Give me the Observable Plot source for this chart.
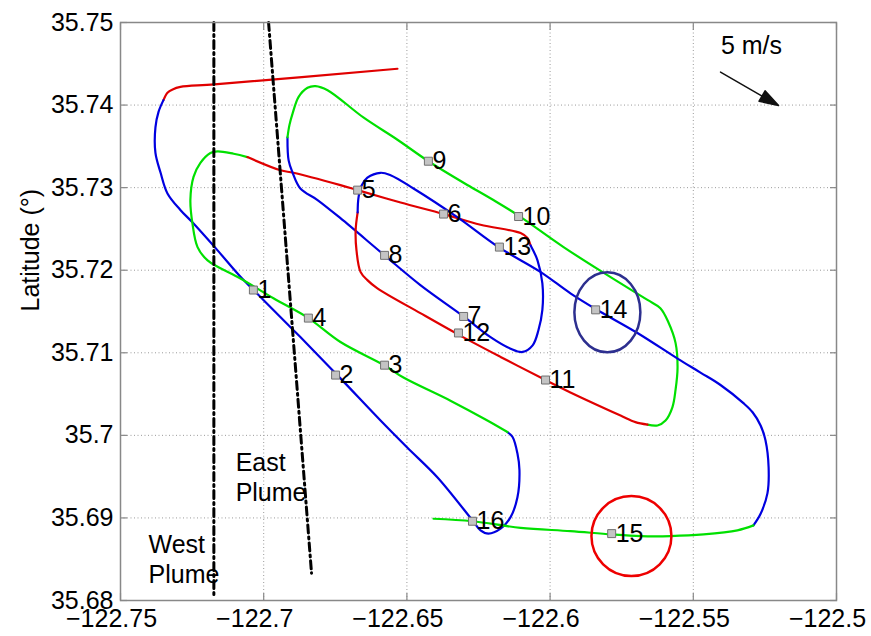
<!DOCTYPE html>
<html>
<head>
<meta charset="utf-8">
<script src="https://cdn.jsdelivr.net/npm/d3@7"></script>
<script src="https://cdn.jsdelivr.net/npm/@observablehq/plot@0.6"></script>
<style>
  body { margin: 0; background: #fff; }
  #chart svg { display: block; }
</style>
</head>
<body>
<div id="chart"></div>
<script>
// Axis ticks and their printed labels
const xTicks = [-122.75, -122.7, -122.65, -122.6, -122.55, -122.5];
const xTickLabels = ["−122.75", "−122.7", "−122.65", "−122.6", "−122.55", "−122.5"];
const yTicks = [35.68, 35.69, 35.7, 35.71, 35.72, 35.73, 35.74, 35.75];
const yTickLabels = ["35.68", "35.69", "35.7", "35.71", "35.72", "35.73", "35.74", "35.75"];
const yTitle = "Latitude (°)";

// Flight track, leg by leg, as [longitude, latitude]
const leg0Red = [[-122.6533, 35.7444], [-122.7172, 35.7425], [-122.7291, 35.7422], [-122.7318, 35.7419], [-122.7336, 35.7415], [-122.7350, 35.7406]];
const leg1Blue = [[-122.7350, 35.7406], [-122.7367, 35.7392], [-122.7378, 35.7373], [-122.7378, 35.7342], [-122.7360, 35.7318], [-122.7336, 35.7293], [-122.7291, 35.7273], [-122.7249, 35.7258], [-122.7161, 35.7224], [-122.7081, 35.7192], [-122.7001, 35.7164], [-122.6872, 35.7119], [-122.6732, 35.7069], [-122.6592, 35.7018], [-122.6498, 35.6985], [-122.6393, 35.6949], [-122.6271, 35.6897], [-122.6243, 35.6885], [-122.6215, 35.6881], [-122.6173, 35.6887], [-122.6138, 35.6901], [-122.6114, 35.6925], [-122.6107, 35.6958], [-122.6114, 35.6978], [-122.6131, 35.6998], [-122.6149, 35.7004]];
const leg2Green = [[-122.6149, 35.7004], [-122.6219, 35.7018], [-122.6348, 35.7042], [-122.6512, 35.7070], [-122.6575, 35.7084], [-122.6732, 35.7113], [-122.6844, 35.7142], [-122.6966, 35.7166], [-122.7081, 35.7190], [-122.7196, 35.7212], [-122.7231, 35.7228], [-122.7249, 35.7257], [-122.7256, 35.7285], [-122.7245, 35.7313], [-122.7221, 35.7330], [-122.7186, 35.7342], [-122.7161, 35.7344], [-122.7105, 35.7341], [-122.7057, 35.7337]];
const leg3Red = [[-122.7057, 35.7337], [-122.6941, 35.7321], [-122.6896, 35.7318], [-122.6732, 35.7303], [-122.6672, 35.7297], [-122.6522, 35.7282], [-122.6372, 35.7268], [-122.6243, 35.7255], [-122.6103, 35.7245], [-122.6079, 35.7239], [-122.6068, 35.7230]];
const leg4Blue = [[-122.6068, 35.7230], [-122.6044, 35.7212], [-122.6027, 35.7184], [-122.6027, 35.7152], [-122.6041, 35.7127], [-122.6061, 35.7109], [-122.6096, 35.7101], [-122.6138, 35.7105], [-122.6208, 35.7119], [-122.6302, 35.7144], [-122.6453, 35.7182], [-122.6578, 35.7218], [-122.6732, 35.7263], [-122.6812, 35.7285], [-122.6872, 35.7299], [-122.6899, 35.7318], [-122.6913, 35.7333], [-122.6917, 35.7361]];
const leg5Green = [[-122.6917, 35.7361], [-122.6910, 35.7376], [-122.6899, 35.7390], [-122.6878, 35.7410], [-122.6847, 35.7421], [-122.6819, 35.7423], [-122.6777, 35.7418], [-122.6652, 35.7385], [-122.6533, 35.7358], [-122.6425, 35.7332], [-122.6278, 35.7301], [-122.6198, 35.7285], [-122.6114, 35.7267], [-122.5953, 35.7228], [-122.5800, 35.7194], [-122.5660, 35.7164], [-122.5615, 35.7154], [-122.5587, 35.7137], [-122.5562, 35.7112], [-122.5555, 35.7082], [-122.5562, 35.7055], [-122.5573, 35.7034], [-122.5597, 35.7018], [-122.5625, 35.7012], [-122.5660, 35.7013]];
const leg6Red = [[-122.5660, 35.7013], [-122.5702, 35.7016], [-122.5754, 35.7024], [-122.5929, 35.7052], [-122.6016, 35.7067], [-122.6173, 35.7095], [-122.6320, 35.7122], [-122.6453, 35.7148], [-122.6603, 35.7178], [-122.6638, 35.7188], [-122.6662, 35.7198], [-122.6676, 35.7224], [-122.6679, 35.7248], [-122.6672, 35.7270]];
const leg7Blue = [[-122.6672, 35.7270], [-122.6669, 35.7288], [-122.6659, 35.7302], [-122.6638, 35.7312], [-122.6592, 35.7318], [-122.6557, 35.7315], [-122.6477, 35.7299], [-122.6323, 35.7264], [-122.6180, 35.7228], [-122.6034, 35.7198], [-122.5929, 35.7172], [-122.5841, 35.7153], [-122.5695, 35.7124], [-122.5555, 35.7093], [-122.5475, 35.7076], [-122.5405, 35.7061], [-122.5325, 35.7039], [-122.5293, 35.7028], [-122.5265, 35.7012], [-122.5248, 35.6994], [-122.5237, 35.6961], [-122.5241, 35.6930], [-122.5265, 35.6905], [-122.5290, 35.6891]];
const leg8Green = [[-122.5290, 35.6891], [-122.5346, 35.6885], [-122.5464, 35.6880], [-122.5580, 35.6878], [-122.5684, 35.6878], [-122.5785, 35.6880], [-122.5929, 35.6884], [-122.6103, 35.6888], [-122.6271, 35.6896], [-122.6407, 35.6899]];

// Numbered waypoints along the track
const waypointIds = [1, 2, 3, 4, 5, 6, 7, 8, 9, 10, 11, 12, 13, 14, 15, 16];
const waypointLon = [-122.7036, -122.6749, -122.6578, -122.6844, -122.6672, -122.6372, -122.6302, -122.6578, -122.6425, -122.6110, -122.6016, -122.6320, -122.6177, -122.5841, -122.5785, -122.6271];
const waypointLat = [35.7176, 35.7073, 35.7085, 35.7142, 35.7297, 35.7268, 35.7144, 35.7218, 35.7332, 35.7265, 35.7067, 35.7124, 35.7228, 35.7152, 35.6881, 35.6896];

// Plume axes (dash-dot) and their labels
const westPlume = [[-122.7174, 35.75], [-122.7174, 35.6804]];
const eastPlume = [[-122.6983, 35.75], [-122.6833, 35.6833]];
const plumeLabels = ["East\nPlume", "West\nPlume"];
const plumeLabelLon = [-122.7098, -122.7402];
const plumeLabelLat = [35.6921, 35.6821];

// Highlighted waypoints (14 and 15)
const highlightLon = [-122.5800, -122.5716];
const highlightLat = [35.7149, 35.6878];

// Wind reference vector
const windLabel = "5 m/s";
const windLabelPos = [-122.5297, 35.7472];
const windStart = [-122.5405, 35.7440];

const legs = [
  {pts: leg0Red, color: "#e00000"},
  {pts: leg1Blue, color: "#0000e0"},
  {pts: leg2Green, color: "#00e000"},
  {pts: leg3Red, color: "#e00000"},
  {pts: leg4Blue, color: "#0000e0"},
  {pts: leg5Green, color: "#00e000"},
  {pts: leg6Red, color: "#e00000"},
  {pts: leg7Blue, color: "#0000e0"},
  {pts: leg8Green, color: "#00e000"}
];

const waypoints = waypointIds.map((id, i) => ({id, lon: waypointLon[i], lat: waypointLat[i]}));
const plumeText = plumeLabels.map((t, i) => ({t, lon: plumeLabelLon[i], lat: plumeLabelLat[i]}));

// Elliptical outline symbol (taller than wide)
const ellipse = {
  draw(context, size) {
    const ry = Math.sqrt(size / Math.PI);
    const rx = ry * 0.825;
    const k = 0.5523;
    context.moveTo(rx, 0);
    context.bezierCurveTo(rx, ry * k, rx * k, ry, 0, ry);
    context.bezierCurveTo(-rx * k, ry, -rx, ry * k, -rx, 0);
    context.bezierCurveTo(-rx, -ry * k, -rx * k, -ry, 0, -ry);
    context.bezierCurveTo(rx * k, -ry, rx, -ry * k, rx, 0);
    context.closePath();
  }
};

// Arrow with a filled head for the wind vector
const filledArrow = {
  draw(context, l) {
    const h = 19, w = 6;
    context.moveTo(0, 0);
    context.lineTo(0, -(l - h));
    context.moveTo(0, -l);
    context.lineTo(-w, -l + h);
    context.lineTo(w, -l + h);
    context.closePath();
  }
};

const font = 25;
const gridStyle = {stroke: "#9a9a9a", strokeOpacity: 1, strokeDasharray: "1,2.5", strokeWidth: 1};
const tickStyle = {stroke: "#888", strokeWidth: 1.2, tickFormat: () => "", tickSize: -7, label: null};
const plumeStyle = {x: d => d[0], y: d => d[1], stroke: "#000", strokeWidth: 3, strokeDasharray: "8,4,2,4"};

const chart = Plot.plot({
  width: 871,
  height: 636,
  marginLeft: 120,
  marginRight: 35,
  marginTop: 22,
  marginBottom: 36,
  style: {fontFamily: "'Liberation Sans', Arial, sans-serif", background: "#fff", color: "#000"},
  x: {domain: [-122.75, -122.5], label: null},
  y: {domain: [35.68, 35.75], label: null},
  marks: [
    Plot.gridX(xTicks, gridStyle),
    Plot.gridY(yTicks, gridStyle),
    ...legs.map(leg => Plot.line(leg.pts, {
      x: d => d[0], y: d => d[1], stroke: leg.color, strokeWidth: 2.2, curve: "catmull-rom"
    })),
    Plot.line(westPlume, plumeStyle),
    Plot.line(eastPlume, plumeStyle),
    Plot.dot(waypoints, {x: "lon", y: "lat", symbol: "square", r: 4.5, fill: "#c4c4c4", stroke: "#707070", strokeWidth: 1}),
    Plot.text(waypoints, {x: "lon", y: "lat", text: "id", dx: 4, textAnchor: "start", fontSize: font, fill: "#000"}),
    Plot.dot([0], {x: () => highlightLon[0], y: () => highlightLat[0], r: 40, symbol: ellipse, fill: "none", stroke: "#2d2f8f", strokeWidth: 2.5}),
    Plot.dot([1], {x: () => highlightLon[1], y: () => highlightLat[1], r: 40, fill: "none", stroke: "#ee0000", strokeWidth: 2.5}),
    Plot.text(plumeText, {x: "lon", y: "lat", text: "t", textAnchor: "start", lineAnchor: "bottom", lineHeight: 1.2, fontSize: font, fill: "#000"}),
    Plot.text([windLabel], {x: () => windLabelPos[0], y: () => windLabelPos[1], text: d => d, fontSize: font, fill: "#000"}),
    Plot.vector([windStart], {x: d => d[0], y: d => d[1], length: 67, rotate: 120, anchor: "start", shape: filledArrow, stroke: "#111", fill: "#111", strokeWidth: 1.5}),
    Plot.frame({stroke: "#888", strokeWidth: 1.5}),
    Plot.axisX(xTicks, {anchor: "bottom", ...tickStyle}),
    Plot.axisX(xTicks, {anchor: "top", ...tickStyle}),
    Plot.axisY(yTicks, {anchor: "left", ...tickStyle}),
    Plot.axisY(yTicks, {anchor: "right", ...tickStyle}),
    Plot.text(xTicks, {x: d => d, text: (d, i) => xTickLabels[i], frameAnchor: "bottom", lineAnchor: "top", dy: 9, dx: -9, fontSize: font, fill: "#000"}),
    Plot.text(yTicks, {y: d => d, text: (d, i) => yTickLabels[i], frameAnchor: "left", textAnchor: "end", dx: -7, fontSize: font, fill: "#000"}),
    Plot.text([yTitle], {frameAnchor: "left", text: d => d, rotate: -90, dx: -90, fontSize: font, fill: "#000"})
  ]
});

document.getElementById("chart").appendChild(chart);
</script>
</body>
</html>
